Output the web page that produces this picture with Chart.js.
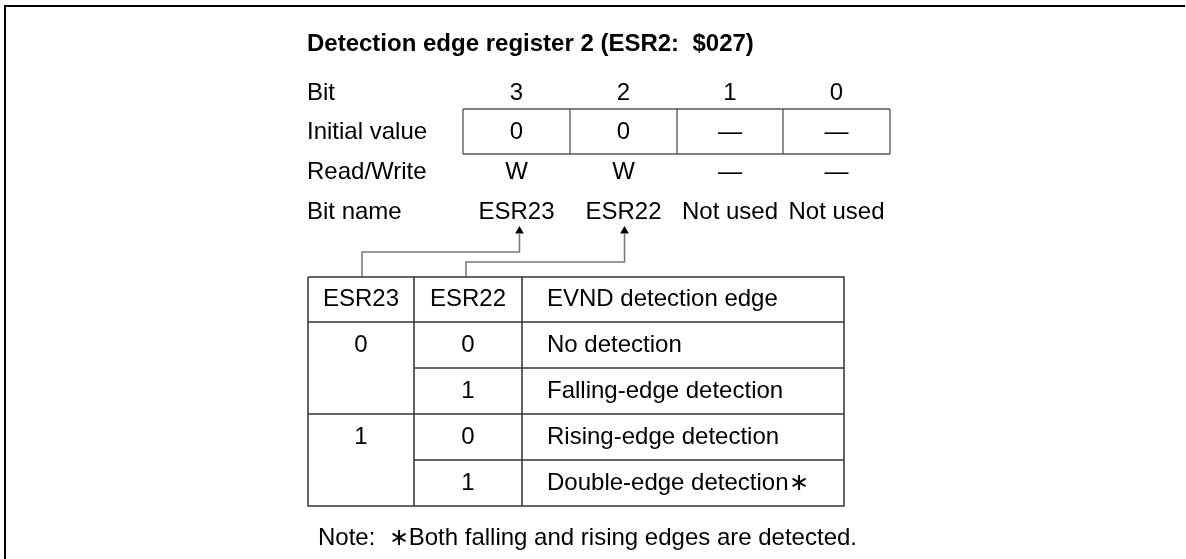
<!DOCTYPE html>
<html>
<head>
<meta charset="utf-8">
<script src="https://cdn.jsdelivr.net/npm/chart.js@4"></script>
<style>
  html, body { margin: 0; padding: 0; background: #fff; }
  canvas { display: block; }
</style>
</head>
<body>
<canvas id="regChart" width="1186" height="559"></canvas>
<script>
// register contents
var title = 'Detection edge register 2 (ESR2:  $027)';
var rowLabels = ['Bit', 'Initial value', 'Read/Write', 'Bit name'];
var bitNumbers = ['3', '2', '1', '0'];
var initialValues = ['0', '0', '\u2014', '\u2014'];
var readWrite = ['W', 'W', '\u2014', '\u2014'];
var bitNames = ['ESR23', 'ESR22', 'Not used', 'Not used'];

// edge selection table
var tableHeader = ['ESR23', 'ESR22', 'EVND detection edge'];
var esr23Values = ['0', '1'];
var esr22Values = ['0', '1', '0', '1'];
var edgeDescriptions = ['No detection', 'Falling-edge detection', 'Rising-edge detection', 'Double-edge detection\u2217'];
var noteText = 'Note:  \u2217Both falling and rising edges are detected.';

// layout (in scale units = pixels of the page)
var W = 1186, H = 559;
var labelX = 307;
var titleY = 44;
var regRowY = [93, 132, 172, 212];
var regCols = [463, 570, 677, 783, 890];
var regTop = 109, regBot = 154;
var tblCols = [308, 414, 522, 844];
var tblRows = [277, 322, 368, 414, 460, 506];
var descX = 547;
var noteY = 538;

var datasets = [];

function seg(pts, color, width) {
    datasets.push({
        type: 'line',
        data: pts.map(function (p) { return { x: p[0], y: p[1] }; }),
        borderColor: color,
        borderWidth: width,
        pointRadius: 0,
        fill: false,
        tension: 0,
        clip: false
    });
}

// frame
seg([[5, H], [5, 6], [1185, 6]], '#000', 2);

// register box
seg([[regCols[0], regTop], [regCols[4], regTop]], '#555', 1.3);
seg([[regCols[0], regBot], [regCols[4], regBot]], '#555', 1.3);
regCols.forEach(function (c) { seg([[c, regTop], [c, regBot]], '#555', 1.3); });

// table outline and columns
var tL = tblCols[0], tR = tblCols[3], tT = tblRows[0], tB = tblRows[5];
seg([[tL, tT], [tR, tT], [tR, tB], [tL, tB], [tL, tT]], '#333', 1.5);
seg([[tblCols[1], tT], [tblCols[1], tB]], '#333', 1.5);
seg([[tblCols[2], tT], [tblCols[2], tB]], '#333', 1.5);
// row lines (ESR23 cells span two rows)
seg([[tL, tblRows[1]], [tR, tblRows[1]]], '#333', 1.5);
seg([[tblCols[1], tblRows[2]], [tR, tblRows[2]]], '#333', 1.5);
seg([[tL, tblRows[3]], [tR, tblRows[3]]], '#333', 1.5);
seg([[tblCols[1], tblRows[4]], [tR, tblRows[4]]], '#333', 1.5);

// connectors from table header to bit names
var c1x = (regCols[0] + regCols[1]) / 2 + 3;
var c2x = (regCols[1] + regCols[2]) / 2 + 1;
seg([[362, tT], [362, 252], [c1x, 252], [c1x, 234]], '#777', 1.5);
seg([[466, tT], [466, 262], [c2x, 262], [c2x, 234]], '#777', 1.5);

// arrow heads
datasets.push({
    type: 'scatter',
    data: [{ x: c1x, y: 231 }, { x: c2x, y: 231 }],
    pointStyle: 'triangle',
    pointRadius: 5,
    backgroundColor: '#000',
    borderColor: '#000',
    borderWidth: 0,
    clip: false
});

var textPlugin = {
    id: 'regText',
    afterDatasetsDraw: function (chart) {
        var ctx = chart.ctx;
        var xs = chart.scales.x, ys = chart.scales.y;
        function put(txt, x, y, align, bold) {
            ctx.font = (bold ? 'bold ' : '') + '24px "Liberation Sans", Arial, sans-serif';
            ctx.textAlign = align || 'center';
            ctx.textBaseline = 'middle';
            ctx.fillStyle = '#000';
            ctx.fillText(txt, xs.getPixelForValue(x), ys.getPixelForValue(y));
        }
        ctx.save();
        put(title, labelX, titleY, 'left', true);
        rowLabels.forEach(function (l, i) { put(l, labelX, regRowY[i], 'left'); });
        var rows = [bitNumbers, initialValues, readWrite, bitNames];
        rows.forEach(function (r, i) {
            r.forEach(function (v, j) {
                put(v, (regCols[j] + regCols[j + 1]) / 2, regRowY[i], 'center');
            });
        });
        var hy = (tblRows[0] + tblRows[1]) / 2;
        put(tableHeader[0], (tblCols[0] + tblCols[1]) / 2, hy, 'center');
        put(tableHeader[1], (tblCols[1] + tblCols[2]) / 2, hy, 'center');
        put(tableHeader[2], descX, hy, 'left');
        esr23Values.forEach(function (v, i) {
            put(v, (tblCols[0] + tblCols[1]) / 2, (tblRows[1 + i * 2] + tblRows[2 + i * 2]) / 2, 'center');
        });
        esr22Values.forEach(function (v, i) {
            var y = (tblRows[1 + i] + tblRows[2 + i]) / 2;
            put(v, (tblCols[1] + tblCols[2]) / 2, y, 'center');
            put(edgeDescriptions[i], descX, y, 'left');
        });
        put(noteText, 318, noteY, 'left');
        ctx.restore();
    }
};

var regChart = new Chart(document.getElementById('regChart'), {
    type: 'scatter',
    data: { datasets: datasets },
    options: {
        responsive: false,
        devicePixelRatio: 1,
        animation: false,
        layout: { padding: 0, autoPadding: false },
        scales: {
            x: { type: 'linear', min: 0, max: W, display: false },
            y: { type: 'linear', min: 0, max: H, reverse: true, display: false }
        },
        plugins: { legend: { display: false }, tooltip: { enabled: false } }
    },
    plugins: [textPlugin]
});
</script>
</body>
</html>
